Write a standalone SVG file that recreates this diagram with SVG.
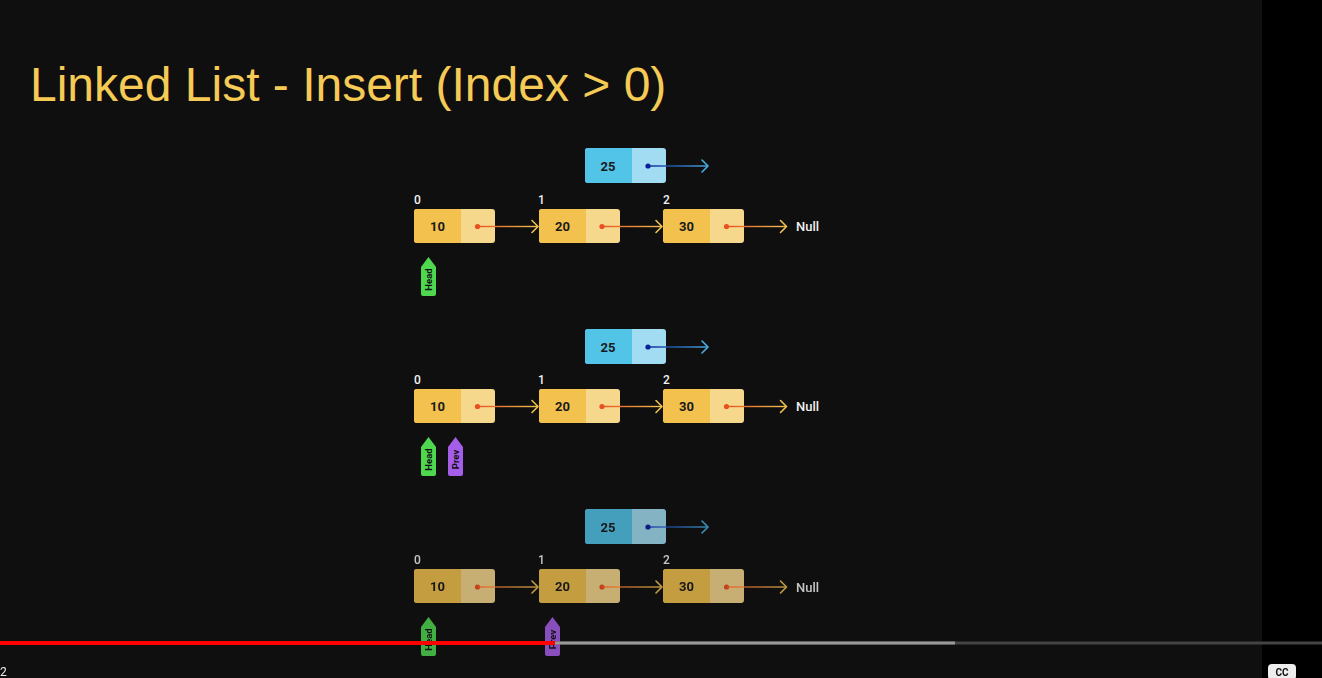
<svg xmlns="http://www.w3.org/2000/svg" width="1322" height="678" viewBox="0 0 1322 678">
<defs>
<style>
.title{font-family:"Liberation Sans",Arial,sans-serif;font-size:48px;fill:#f5ca55}
.val{font-family:Roboto,"Liberation Sans",sans-serif;font-weight:700;font-size:13px;fill:#1a1a1a;text-anchor:middle}
.idx{font-family:Roboto,"Liberation Sans",sans-serif;font-weight:500;font-size:12px;fill:#f2f2f2}
.null{font-family:Roboto,"Liberation Sans",sans-serif;font-weight:500;font-size:13px;fill:#f2f2f2}
.tagt{font-family:Roboto,"Liberation Sans",sans-serif;font-weight:700;font-size:9.5px;fill:#111;text-anchor:middle}
.yl{fill:#f2c14e}
.yr{fill:#f5d88c}
.bl{fill:#52c4e8}
.br{fill:#a2dcf2}
.dot{fill:#e8501f}
.bdot{fill:#0a1f9a}
.chev{fill:none;stroke:#f0c050;stroke-width:1.6;stroke-linecap:round;stroke-linejoin:round}
.bchev{fill:none;stroke:#4aaee6;stroke-width:1.6;stroke-linecap:round;stroke-linejoin:round}
.head{fill:#4fd84f}
.prev{fill:#a55ee8}
.dim{opacity:0.8}
</style>
<linearGradient id="ga" x1="0" y1="0" x2="1" y2="0">
<stop offset="0" stop-color="#e8501f"/>
<stop offset="1" stop-color="#f0c050"/>
</linearGradient>
<linearGradient id="gb" x1="0" y1="0" x2="1" y2="0">
<stop offset="0" stop-color="#0a1f9a"/>
<stop offset="1" stop-color="#4aaee6"/>
</linearGradient>
<g id="ynode">
<rect x="0" y="0" width="81" height="34" rx="3" class="yr"/>
<path d="M3 0 H47 V34 H3 A3 3 0 0 1 0 31 V3 A3 3 0 0 1 3 0 Z" class="yl"/>
</g>
<g id="bnode">
<rect x="0" y="0" width="81" height="35" rx="3" class="br"/>
<path d="M3 0 H47 V35 H3 A3 3 0 0 1 0 32 V3 A3 3 0 0 1 3 0 Z" class="bl"/>
</g>
<path id="tag" d="M0 10 L7.5 0 L15 10 V37 A2 2 0 0 1 13 39 H2 A2 2 0 0 1 0 37 Z"/>
</defs>
<rect x="0" y="0" width="1322" height="678" fill="#000"/>
<rect x="0" y="0" width="1262" height="678" fill="#0f0f0f"/>
<text class="title" x="30" y="101">Linked List - Insert (Index &gt; 0)</text>

<!-- Row 1 -->
<g id="row1">
<g id="r1-new"><use href="#bnode" x="585" y="148"/><text class="val" x="608" y="170.5">25</text><circle class="bdot" cx="648" cy="166" r="2.6"/></g>
<g id="r1-n0"><text class="idx" x="414" y="204">0</text><use href="#ynode" x="414" y="209"/><text class="val" x="437.5" y="230.5">10</text><circle class="dot" cx="477.5" cy="226.5" r="2.6"/></g>
<g id="r1-n1"><text class="idx" x="538" y="204">1</text><use href="#ynode" x="539" y="209"/><text class="val" x="562.5" y="230.5">20</text><circle class="dot" cx="602" cy="226.5" r="2.6"/></g>
<g id="r1-n2"><text class="idx" x="663" y="204">2</text><use href="#ynode" x="663" y="209"/><text class="val" x="686.5" y="230.5">30</text><circle class="dot" cx="726.5" cy="226.5" r="2.6"/></g>
<g id="r1-null"><text class="null" x="796" y="231">Null</text></g>
<g id="r1-head"><use href="#tag" x="421" y="257" class="head"/><text class="tagt" transform="translate(431.8 279.5) rotate(-90)">Head</text></g>
</g>

<!-- Row 2 -->
<g id="row2">
<g id="r2-new"><use href="#bnode" x="585" y="329"/><text class="val" x="608" y="351.5">25</text><circle class="bdot" cx="648" cy="347" r="2.6"/></g>
<g id="r2-n0"><text class="idx" x="414" y="384">0</text><use href="#ynode" x="414" y="389"/><text class="val" x="437.5" y="410.5">10</text><circle class="dot" cx="477.5" cy="406.5" r="2.6"/></g>
<g id="r2-n1"><text class="idx" x="538" y="384">1</text><use href="#ynode" x="539" y="389"/><text class="val" x="562.5" y="410.5">20</text><circle class="dot" cx="602" cy="406.5" r="2.6"/></g>
<g id="r2-n2"><text class="idx" x="663" y="384">2</text><use href="#ynode" x="663" y="389"/><text class="val" x="686.5" y="410.5">30</text><circle class="dot" cx="726.5" cy="406.5" r="2.6"/></g>
<g id="r2-null"><text class="null" x="796" y="411">Null</text></g>
<g id="r2-head"><use href="#tag" x="421" y="437" class="head"/><text class="tagt" transform="translate(431.8 459.5) rotate(-90)">Head</text></g>
<g id="r2-prev"><use href="#tag" x="448" y="437" class="prev"/><text class="tagt" transform="translate(458.8 459.5) rotate(-90)">Prev</text></g>
</g>

<!-- Row 3 (dimmed) -->
<g id="row3" class="dim">
<g id="r3-new"><use href="#bnode" x="585" y="509"/><text class="val" x="608" y="531.5">25</text><circle class="bdot" cx="648" cy="527" r="2.6"/></g>
<g id="r3-n0"><text class="idx" x="414" y="564">0</text><use href="#ynode" x="414" y="569"/><text class="val" x="437.5" y="591">10</text><circle class="dot" cx="477.5" cy="587" r="2.6"/></g>
<g id="r3-n1"><text class="idx" x="538" y="564">1</text><use href="#ynode" x="539" y="569"/><text class="val" x="562.5" y="591">20</text><circle class="dot" cx="602" cy="587" r="2.6"/></g>
<g id="r3-n2"><text class="idx" x="663" y="564">2</text><use href="#ynode" x="663" y="569"/><text class="val" x="686.5" y="591">30</text><circle class="dot" cx="726.5" cy="587" r="2.6"/></g>
<g id="r3-null"><text class="null" x="796" y="591.5">Null</text></g>
<g id="r3-head"><use href="#tag" x="421" y="617" class="head"/><text class="tagt" transform="translate(431.8 639.5) rotate(-90)">Head</text></g>
<g id="r3-prev"><use href="#tag" x="545" y="617" class="prev"/><text class="tagt" transform="translate(555.8 639.5) rotate(-90)">Prev</text></g>
</g>

<!-- Connectors -->
<g id="connectors">
<rect x="648" y="165.3" width="59" height="1.4" fill="url(#gb)"/><polyline class="bchev" points="702,160 708,166 702,172"/>
<rect x="478" y="225.8" width="59" height="1.4" fill="url(#ga)"/><polyline class="chev" points="532,220.5 538,226.5 532,232.5"/>
<rect x="602" y="225.8" width="59" height="1.4" fill="url(#ga)"/><polyline class="chev" points="656,220.5 662,226.5 656,232.5"/>
<rect x="727" y="225.8" width="59" height="1.4" fill="url(#ga)"/><polyline class="chev" points="780.5,220.5 786.5,226.5 780.5,232.5"/>

<rect x="648" y="346.3" width="59" height="1.4" fill="url(#gb)"/><polyline class="bchev" points="702,341 708,347 702,353"/>
<rect x="478" y="405.8" width="59" height="1.4" fill="url(#ga)"/><polyline class="chev" points="532,400.5 538,406.5 532,412.5"/>
<rect x="602" y="405.8" width="59" height="1.4" fill="url(#ga)"/><polyline class="chev" points="656,400.5 662,406.5 656,412.5"/>
<rect x="727" y="405.8" width="59" height="1.4" fill="url(#ga)"/><polyline class="chev" points="780.5,400.5 786.5,406.5 780.5,412.5"/>

<g class="dim">
<rect x="648" y="526.3" width="59" height="1.4" fill="url(#gb)"/><polyline class="bchev" points="702,521 708,527 702,533"/>
<rect x="478" y="586.3" width="59" height="1.4" fill="url(#ga)"/><polyline class="chev" points="532,581 538,587 532,593"/>
<rect x="602" y="586.3" width="59" height="1.4" fill="url(#ga)"/><polyline class="chev" points="656,581 662,587 656,593"/>
<rect x="727" y="586.3" width="59" height="1.4" fill="url(#ga)"/><polyline class="chev" points="780.5,581 786.5,587 780.5,593"/>
</g>
</g>

<!-- Video player bar -->
<g id="player">
<rect x="0" y="641.5" width="1322" height="3" fill="#444"/>
<rect x="555" y="641.5" width="400" height="3" fill="#999"/>
<rect x="0" y="641" width="555" height="4" fill="#f00"/>
<text x="0" y="676" font-family="Roboto,'Liberation Sans',sans-serif" font-size="12" fill="#eee">2</text>
<rect x="1268" y="664" width="28" height="16" rx="4" fill="#eee"/>
<text x="1282" y="675.5" font-family="Roboto,'Liberation Sans',sans-serif" font-weight="700" font-size="10" fill="#111" text-anchor="middle">CC</text>
</g>
</svg>
